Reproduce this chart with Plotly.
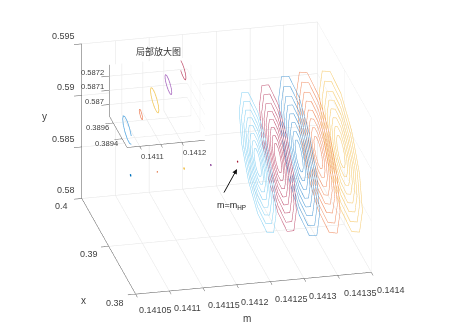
import plotly.graph_objects as go

# HP points, one tiny cycle per m
hp_m = [0.14108, 0.14112, 0.14116, 0.14120, 0.14124]
hp_x = [0.38938, 0.38945, 0.38952, 0.38959, 0.38965]
hp_y = [0.58699, 0.58705, 0.58710, 0.58716, 0.58722]
hp_colors = ["#5aa9e0", "#ee8a66", "#f2c757", "#a96ac0", "#c2536f"]
hp_dots = ["#0072bd", "#d95319", "#edb120", "#7e2f8e", "#a2142f"]
# offsets from the centre, in 1e-6
hp_dx = [
    [103, 89, 52, 0, -52, -89, -103, -89, -52, 0, 52, 89],
    [38, 33, 19, 0, -19, -33, -38, -33, -19, 0, 19, 33],
    [95, 82, 48, 0, -48, -82, -95, -82, -48, 0, 48, 82],
    [77, 67, 39, 0, -39, -67, -77, -67, -39, 0, 39, 67],
    [77, 67, 39, 0, -39, -67, -77, -67, -39, 0, 39, 67],
]
hp_dy = [
    [23, 51, 65, 62, 42, 11, -23, -51, -65, -62, -42, -11],
    [8, 18, 24, 23, 15, 4, -8, -18, -24, -23, -15, -4],
    [19, 44, 56, 54, 37, 10, -19, -44, -56, -54, -37, -10],
    [15, 34, 43, 41, 28, 8, -15, -34, -43, -41, -28, -8],
    [15, 34, 43, 41, 28, 8, -15, -34, -43, -41, -28, -8],
]

# large cycles, one family per m
big_m = [0.14127, 0.14130, 0.14133, 0.14136, 0.14139]
big_x = [0.3897, 0.3897, 0.3893, 0.3897, 0.3888]
big_y = [0.58693, 0.58718, 0.58739, 0.58735, 0.58769]
big_colors = ["#7fcff3", "#bf4f70", "#4e9bd6", "#f08a5e", "#f6c866"]

# offsets from the centre, in 1e-5
cyan_dx = [
    [685, 593, 343, 0, -343, -593, -685, -593, -343, 0, 343, 593],
    [599, 519, 300, 0, -300, -519, -599, -519, -300, 0, 300, 519],
    [514, 445, 257, 0, -257, -445, -514, -445, -257, 0, 257, 445],
    [438, 379, 219, 0, -219, -379, -438, -379, -219, 0, 219, 379],
    [363, 314, 182, 0, -182, -314, -363, -314, -182, 0, 182, 314],
    [288, 249, 144, 0, -144, -249, -288, -249, -144, 0, 144, 249],
    [212, 184, 106, 0, -106, -184, -212, -184, -106, 0, 106, 184],
    [137, 119, 69, 0, -69, -119, -137, -119, -69, 0, 69, 119],
]
cyan_dy = [
    [180, 403, 518, 494, 338, 92, -180, -403, -518, -494, -338, -92],
    [157, 352, 453, 432, 296, 80, -157, -352, -453, -432, -296, -80],
    [135, 303, 389, 371, 254, 69, -135, -303, -389, -371, -254, -69],
    [115, 258, 332, 317, 217, 59, -115, -258, -332, -317, -217, -59],
    [95, 214, 275, 262, 179, 49, -95, -214, -275, -262, -179, -49],
    [76, 169, 218, 208, 142, 38, -76, -169, -218, -208, -142, -38],
    [56, 125, 161, 153, 105, 28, -56, -125, -161, -153, -105, -28],
    [36, 80, 103, 99, 68, 18, -36, -80, -103, -99, -68, -18],
]
crimson_dx = [
    [685, 593, 343, 0, -343, -593, -685, -593, -343, 0, 343, 593],
    [599, 519, 300, 0, -300, -519, -599, -519, -300, 0, 300, 519],
    [514, 445, 257, 0, -257, -445, -514, -445, -257, 0, 257, 445],
    [438, 379, 219, 0, -219, -379, -438, -379, -219, 0, 219, 379],
    [363, 314, 182, 0, -182, -314, -363, -314, -182, 0, 182, 314],
    [288, 249, 144, 0, -144, -249, -288, -249, -144, 0, 144, 249],
    [212, 184, 106, 0, -106, -184, -212, -184, -106, 0, 106, 184],
    [137, 119, 69, 0, -69, -119, -137, -119, -69, 0, 69, 119],
]
crimson_dy = [
    [192, 429, 552, 526, 360, 97, -192, -429, -552, -526, -360, -97],
    [168, 375, 483, 461, 315, 85, -168, -375, -483, -461, -315, -85],
    [144, 322, 414, 395, 270, 73, -144, -322, -414, -395, -270, -73],
    [122, 274, 353, 337, 230, 62, -122, -274, -353, -337, -230, -62],
    [102, 228, 293, 279, 191, 52, -102, -228, -293, -279, -191, -52],
    [80, 180, 231, 221, 151, 41, -80, -180, -231, -221, -151, -41],
    [60, 133, 171, 164, 112, 30, -60, -133, -171, -164, -112, -30],
    [38, 86, 110, 105, 72, 19, -38, -86, -110, -105, -72, -19],
]
blue_dx = [
    [760, 658, 380, 0, -380, -658, -760, -658, -380, 0, 380, 658],
    [665, 576, 333, 0, -333, -576, -665, -576, -333, 0, 333, 576],
    [570, 494, 285, 0, -285, -494, -570, -494, -285, 0, 285, 494],
    [486, 421, 243, 0, -243, -421, -486, -421, -243, 0, 243, 421],
    [403, 349, 202, 0, -202, -349, -403, -349, -202, 0, 202, 349],
    [319, 276, 160, 0, -160, -276, -319, -276, -160, 0, 160, 276],
    [236, 204, 118, 0, -118, -204, -236, -204, -118, 0, 118, 204],
    [152, 132, 76, 0, -76, -132, -152, -132, -76, 0, 76, 132],
]
blue_dy = [
    [207, 464, 597, 570, 390, 105, -207, -464, -597, -570, -390, -105],
    [181, 406, 522, 498, 341, 92, -181, -406, -522, -498, -341, -92],
    [156, 349, 448, 428, 293, 79, -156, -349, -448, -428, -293, -79],
    [133, 297, 382, 365, 249, 68, -133, -297, -382, -365, -249, -68],
    [110, 246, 316, 302, 206, 56, -110, -246, -316, -302, -206, -56],
    [87, 195, 251, 240, 164, 44, -87, -195, -251, -240, -164, -44],
    [64, 144, 185, 177, 121, 33, -64, -144, -185, -177, -121, -33],
    [41, 93, 119, 114, 78, 21, -41, -93, -119, -114, -78, -21],
]
orange_dx = [
    [810, 701, 405, 0, -405, -701, -810, -701, -405, 0, 405, 701],
    [709, 614, 355, 0, -355, -614, -709, -614, -355, 0, 355, 614],
    [608, 527, 304, 0, -304, -527, -608, -527, -304, 0, 304, 527],
    [518, 449, 259, 0, -259, -449, -518, -449, -259, 0, 259, 449],
    [429, 372, 215, 0, -215, -372, -429, -372, -215, 0, 215, 372],
    [340, 294, 170, 0, -170, -294, -340, -294, -170, 0, 170, 294],
    [251, 217, 126, 0, -126, -217, -251, -217, -126, 0, 126, 217],
    [162, 140, 81, 0, -81, -140, -162, -140, -81, 0, 81, 140],
]
orange_dy = [
    [203, 456, 586, 559, 383, 104, -203, -456, -586, -559, -383, -104],
    [178, 399, 513, 490, 335, 91, -178, -399, -513, -490, -335, -91],
    [153, 342, 439, 419, 287, 78, -153, -342, -439, -419, -287, -78],
    [130, 292, 375, 358, 245, 66, -130, -292, -375, -358, -245, -66],
    [108, 241, 310, 296, 203, 55, -108, -241, -310, -296, -203, -55],
    [86, 192, 246, 235, 161, 44, -86, -192, -246, -235, -161, -44],
    [63, 141, 181, 173, 118, 32, -63, -141, -181, -173, -118, -32],
    [41, 91, 117, 112, 77, 21, -41, -91, -117, -112, -77, -21],
]
yellow_dx = [
    [800, 693, 400, 0, -400, -693, -800, -693, -400, 0, 400, 693],
    [700, 606, 350, 0, -350, -606, -700, -606, -350, 0, 350, 606],
    [600, 520, 300, 0, -300, -520, -600, -520, -300, 0, 300, 520],
    [512, 443, 256, 0, -256, -443, -512, -443, -256, 0, 256, 443],
    [424, 367, 212, 0, -212, -367, -424, -367, -212, 0, 212, 367],
    [336, 291, 168, 0, -168, -291, -336, -291, -168, 0, 168, 291],
    [248, 215, 124, 0, -124, -215, -248, -215, -124, 0, 124, 215],
    [160, 139, 80, 0, -80, -139, -160, -139, -80, 0, 80, 139],
]
yellow_dy = [
    [205, 460, 591, 564, 386, 104, -205, -460, -591, -564, -386, -104],
    [180, 402, 517, 494, 338, 91, -180, -402, -517, -494, -338, -91],
    [154, 345, 443, 423, 289, 78, -154, -345, -443, -423, -289, -78],
    [131, 294, 378, 361, 247, 67, -131, -294, -378, -361, -247, -67],
    [109, 244, 313, 299, 204, 55, -109, -244, -313, -299, -204, -55],
    [86, 193, 248, 237, 162, 44, -86, -193, -248, -237, -162, -44],
    [64, 142, 183, 175, 120, 32, -64, -142, -183, -175, -120, -32],
    [41, 92, 118, 113, 77, 21, -41, -92, -118, -113, -77, -21],
]
big_dx = [cyan_dx, crimson_dx, blue_dx, orange_dx, yellow_dx]
big_dy = [cyan_dy, crimson_dy, blue_dy, orange_dy, yellow_dy]

m_ticks = [0.14105, 0.1411, 0.14115, 0.1412, 0.14125, 0.1413, 0.14135, 0.1414]
m_labels = ["0.14105", "0.1411", "0.14115", "0.1412", "0.14125", "0.1413", "0.14135", "0.1414"]
x_ticks = [0.38, 0.39, 0.4]
x_labels = ["0.38", "0.39", "0.4"]
y_ticks = [0.58, 0.585, 0.59, 0.595]
y_labels = ["0.58", "0.585", "0.59", "0.595"]

in_m_ticks = [0.1411, 0.14115, 0.1412]
in_m_labels = ["0.1411", "", "0.1412"]
in_x_ticks = [0.3894, 0.3896]
in_x_labels = ["0.3894", "0.3896"]
in_y_ticks = [0.587, 0.5871, 0.5872]
in_y_labels = ["0.587", "0.5871", "0.5872"]

W, H = 458, 330
FONT = "Liberation Sans"
BOX = 1.465  # box size against the page
PAGE = 8  # the page body's own margin
# where the front-edge labels sit on the page; 3d notes get dropped along that edge
m_label_px = [(155, 310), (187, 308), (224, 305), (255, 302), (291, 299), (323, 296), (360, 293), (391, 290)]
x_front_px = (115, 303)


def ring_line(m, xc, yc, dx, dy, unit):
    xs = [xc + d * unit for d in dx] + [xc + dx[0] * unit]
    ys = [yc + d * unit for d in dy] + [yc + dy[0] * unit]
    return [m] * len(xs), xs, ys


def axis(vals, rng):
    return dict(
        range=rng, tickvals=vals, showticklabels=False, title=dict(text=""),
        showgrid=True, gridcolor="#e4e4e4", gridwidth=1, zeroline=False,
        showline=True, linecolor="#555555", linewidth=1,
        ticks="outside", ticklen=8, tickwidth=1, tickcolor="#555555", showspikes=False,
        showbackground=False, backgroundcolor="white",
    )


def tick_notes(m_t, m_l, x_t, x_l, y_t, y_l, m0, x0, y0, x1, size, sh):
    # tick labels hang off the axes, pinned to data position with pixel shifts
    font = dict(family=FONT, size=size, color="#404040")
    notes = []
    for v, t in zip(m_t, m_l):
        if t:
            notes.append(dict(x=v, y=x0, z=y0, text=t, showarrow=False, font=font, xshift=sh[0][0], yshift=sh[0][1]))
    for v, t in zip(x_t, x_l):
        notes.append(dict(x=m0, y=v, z=y0, text=t, showarrow=False, font=font, xshift=sh[1][0], yshift=sh[1][1]))
    for v, t in zip(y_t, y_l):
        notes.append(dict(x=m0, y=x1, z=v, text=t, showarrow=False, font=font, xanchor="right", xshift=sh[2][0], yshift=sh[2][1]))
    return notes


def page_note(text, px, py, family=FONT, size=9, color="#404040", **kw):
    return dict(text=text, x=(px - PAGE) / W, y=1 - (py - PAGE) / H, xref="paper", yref="paper",
                xanchor="center", yanchor="middle", showarrow=False,
                font=dict(family=family, size=size, color=color), **kw)


fig = go.Figure()

for i in range(5):
    xs, ys, ms = [], [], []
    for dx, dy in zip(big_dx[i], big_dy[i]):
        a, b, c = ring_line(big_m[i], big_x[i], big_y[i], dx, dy, 1e-5)
        ms += a + [None]
        xs += b + [None]
        ys += c + [None]
    fig.add_trace(go.Scatter3d(x=ms, y=xs, z=ys, mode="lines", line=dict(color=big_colors[i], width=1), scene="scene"))

for i in range(5):
    a, b, c = ring_line(hp_m[i], hp_x[i], hp_y[i], hp_dx[i], hp_dy[i], 1e-6)
    fig.add_trace(go.Scatter3d(x=a, y=b, z=c, mode="lines", line=dict(color=hp_dots[i], width=2), scene="scene"))
    fig.add_trace(go.Scatter3d(x=a, y=b, z=c, mode="lines", line=dict(color=hp_colors[i], width=1.5), scene="scene2"))

notes = [
    page_note("局部放大图", 158, 51, family="Noto Sans CJK SC", color="#333333"),
    page_note("m=m<sub>HP</sub>", 231, 205, color="#222222"),
    page_note("m", 247, 318, size=10),
    page_note("x", 83, 300, size=10),
    page_note("y", 44, 116, size=10),
    page_note(x_labels[0], x_front_px[0], x_front_px[1]),
    dict(text=" ", x=(237 - PAGE) / W, y=1 - (169 - PAGE) / H, xref="paper", yref="paper", showarrow=True, ax=-16, ay=29,
         arrowhead=2, arrowsize=1, arrowwidth=1, arrowcolor="#111111"),
]
for t, (px, py) in zip(m_labels, m_label_px):
    notes.append(page_note(t, px, py))

pan = dict(x=0.0535, y=-0.0499, z=-0.0826)
eye = dict(x=-0.2036 * 4 + pan["x"], y=-0.891 * 4 + pan["y"], z=0.406 * 4 + pan["z"])
fig.update_layout(
    width=W, height=H, margin=dict(l=0, r=0, t=0, b=0), showlegend=False,
    paper_bgcolor="white",
    scene=dict(
        domain=dict(x=[0, 1], y=[0, 1]),
        xaxis=axis(m_ticks, [0.14105, 0.1414]),
        yaxis=axis(x_ticks, [0.38, 0.4]),
        zaxis=axis(y_ticks, [0.58, 0.595]),
        aspectmode="manual", aspectratio=dict(x=BOX, y=BOX, z=0.7 * BOX),
        camera=dict(eye=eye, up=dict(x=0, y=0, z=1), center=pan, projection=dict(type="orthographic")),
        annotations=tick_notes([], [], x_ticks[1:], x_labels[1:], y_ticks, y_labels,
                               0.14105, 0.38, 0.58, 0.4, 9, [(19, -15), (-20, -8), (-5, 8)]),
    ),
    scene2=dict(
        domain=dict(x=[77 / W, 228 / W], y=[1 - 153.5 / H, 1 - 44.5 / H]),
        xaxis=dict(axis(in_m_ticks, [0.14107, 0.141255]), showbackground=True),
        yaxis=dict(axis(in_x_ticks, [0.38929, 0.38969]), showbackground=True),
        zaxis=dict(axis(in_y_ticks, [0.58692, 0.58728]), showbackground=True),
        aspectmode="manual", aspectratio=dict(x=BOX, y=BOX, z=0.7 * BOX),
        camera=dict(eye=eye, up=dict(x=0, y=0, z=1), center=pan, projection=dict(type="orthographic")),
        annotations=tick_notes(in_m_ticks, in_m_labels, in_x_ticks, in_x_labels, in_y_ticks, in_y_labels,
                               0.14107, 0.38929, 0.58692, 0.38969, 7.6, [(13, -11), (-16, -5), (-3, 3)]),
    ),
    annotations=notes,
)

fig.write_html("out.html", config=dict(displayModeBar=False))
